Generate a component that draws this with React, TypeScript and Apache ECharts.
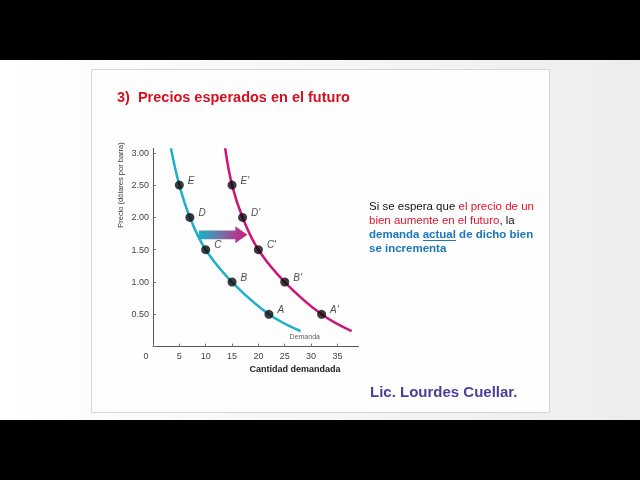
import React, { useEffect, useRef } from "react";
import * as echarts from "echarts";

// ---- data ----
const pointPrices = [2.5, 2.0, 1.5, 1.0, 0.5];
const qtyInitial = [5, 7, 10, 15, 22];
const qtyExpected = [15, 17, 20, 25, 32];
const namesInitial = ["E", "D", "C", "B", "A"];
const namesExpected = ["E'", "D'", "C'", "B'", "A'"];
// curve end points (estimated)
const curveTopPrice = 3.07;
const curveBottomPrice = 0.24;
const initialEnds = [3.4, 28];
const expectedEnds = [13.7, 37.7];
// shift arrow (from qty, to qty, at price)
const shiftArrow = [8.7, 17.9, 1.73];
const demandLabelPos = [28.8, 0.16];
const xTicks = [0, 5, 10, 15, 20, 25, 30, 35];
const yTicks = [0.5, 1.0, 1.5, 2.0, 2.5, 3.0];

const BLUE = "#1eb0c9";
const PINK = "#cc1479";

function curve(qs: number[], ends: number[]) {
  const pts: number[][] = [[ends[0], curveTopPrice]];
  qs.forEach((q, i) => pts.push([q, pointPrices[i]]));
  pts.push([ends[1], curveBottomPrice]);
  return pts;
}

export default function App() {
  const ref = useRef<HTMLDivElement>(null);
  useEffect(() => {
    document.body.style.margin = "0";
    const chart = echarts.init(ref.current!, null, { renderer: "svg" });
    const font = "Liberation Sans, Arial, sans-serif";
    const pointLabel = {
      show: true,
      position: "right" as const,
      offset: [-1, -5],
      fontStyle: "italic" as const,
      fontSize: 10,
      color: "#222",
      fontFamily: font,
    };
    chart.setOption({
      animation: false,
      graphic: [
        { type: "rect", silent: true, z: -10, shape: { x: 0, y: 60, width: 640, height: 360 },
          style: { fill: new echarts.graphic.LinearGradient(0, 0, 1, 0, [
            { offset: 0, color: "#ffffff" }, { offset: 0.5, color: "#f6f6f6" }, { offset: 1, color: "#ededed" }]) } },
        { type: "rect", silent: true, z: -10, shape: { x: 0, y: 0, width: 640, height: 60 }, style: { fill: "#000" } },
        { type: "rect", silent: true, z: -10, shape: { x: 0, y: 420, width: 640, height: 60 }, style: { fill: "#000" } },
        { type: "rect", silent: true, z: -9, shape: { x: 91.5, y: 69.5, width: 458, height: 343 },
          style: { fill: "#fefefe", stroke: "#d6d6d6", lineWidth: 1 } },
        { type: "text", x: 117, y: 97, style: { text: "3)  Precios esperados en el futuro", fill: "#d6101e",
          font: `bold 14.5px ${font}`, verticalAlign: "middle" } },
        { type: "text", x: 120, y: 185, rotation: Math.PI / 2, style: { text: "Precio (dólares por barra)",
          fill: "#333", font: `7.5px ${font}`, align: "center", verticalAlign: "middle" } },
        { type: "text", x: 295, y: 369, style: { text: "Cantidad demandada", fill: "#222",
          font: `bold 9px ${font}`, align: "center", verticalAlign: "middle" } },
        { type: "text", x: 369, y: 199, style: {
          text: "Si se espera que {r|el precio de un}\n{r|bien aumente en el futuro}, la\n{b|demanda }{b|actual}{b| de dicho bien}\n{b|se incrementa}",
          fill: "#111", font: `11.5px ${font}`, lineHeight: 14, verticalAlign: "top",
          rich: {
            r: { fill: "#e3142a", fontSize: 11.5, fontFamily: font, lineHeight: 14 },
            b: { fill: "#1b76bb", fontSize: 11.5, fontWeight: "bold", fontFamily: font, lineHeight: 14 },
          } } },
        { type: "line", shape: { x1: 423, y1: 240.5, x2: 456, y2: 240.5 }, style: { stroke: "#1b76bb", lineWidth: 1 } },
        { type: "text", x: 370, y: 391, style: { text: "Lic. Lourdes Cuellar.", fill: "#4b3f98",
          font: `bold 15px ${font}`, verticalAlign: "middle" } },
      ],
      grid: { left: 153, top: 148.3, width: 205.5, height: 198.3, containLabel: false },
      xAxis: {
        type: "value", min: 0, max: 39, interval: 5,
        axisLine: { lineStyle: { color: "#555", width: 1 } },
        axisTick: { inside: true, length: 3, lineStyle: { color: "#777" } },
        splitLine: { show: false },
        axisLabel: {
          margin: 5, fontSize: 9, color: "#444", fontFamily: font, showMaxLabel: false,
          formatter: (v: number) => (v === 0 ? "{o|0}" : xTicks.includes(v) ? String(v) : ""),
          rich: { o: { padding: [0, 14, 0, 0], fontSize: 9, color: "#444", fontFamily: font } },
        },
      },
      yAxis: {
        type: "value", min: 0, max: curveTopPrice, interval: 0.5,
        axisLine: { show: true, lineStyle: { color: "#555", width: 1 } },
        axisTick: { show: true, inside: true, length: 3, lineStyle: { color: "#777" } },
        splitLine: { show: false },
        axisLabel: {
          margin: 4, fontSize: 9, color: "#444", fontFamily: font, showMaxLabel: false,
          formatter: (v: number) => (yTicks.some((t) => Math.abs(t - v) < 1e-6) ? v.toFixed(2) : ""),
        },
      },
      series: [
        { type: "line", data: curve(qtyInitial, initialEnds), smooth: 0.4, showSymbol: false,
          lineStyle: { color: BLUE, width: 2.5 }, silent: true },
        { type: "line", data: curve(qtyExpected, expectedEnds), smooth: 0.4, showSymbol: false,
          lineStyle: { color: PINK, width: 2.5 }, silent: true },
        { type: "scatter", symbolSize: 9, itemStyle: { color: "#0a0a0a" }, z: 5,
          data: qtyInitial.map((q, i) => ({ value: [q, pointPrices[i]], label: { ...pointLabel, formatter: namesInitial[i] } })) },
        { type: "scatter", symbolSize: 9, itemStyle: { color: "#0a0a0a" }, z: 5,
          data: qtyExpected.map((q, i) => ({ value: [q, pointPrices[i]], label: { ...pointLabel, formatter: namesExpected[i] } })) },
        { type: "scatter", symbolSize: 0, data: [demandLabelPos],
          label: { show: true, position: "inside", formatter: "Demanda", fontSize: 7, color: "#333", fontFamily: font } },
        {
          type: "custom", data: [shiftArrow], z: 4,
          renderItem: (params: any, api: any) => {
            const p0 = api.coord([api.value(0), api.value(2)]);
            const p1 = api.coord([api.value(1), api.value(2)]);
            const y = p0[1];
            const hs = 4.3, hh = 8.5, hl = 12;
            const xh = p1[0] - hl;
            return {
              type: "polygon",
              shape: { points: [[p0[0], y - hs], [xh, y - hs], [xh, y - hh], [p1[0], y], [xh, y + hh], [xh, y + hs], [p0[0], y + hs]] },
              style: { fill: new echarts.graphic.LinearGradient(0, 0, 1, 0, [
                { offset: 0, color: "#17b2c9" }, { offset: 0.5, color: "#7d6ba6" }, { offset: 1, color: "#d21a7b" }]) },
            };
          },
        },
      ],
    });
    return () => chart.dispose();
  }, []);
  return <div ref={ref} style={{ position: "fixed", left: 0, top: 0, width: 640, height: 480 }} />;
}
